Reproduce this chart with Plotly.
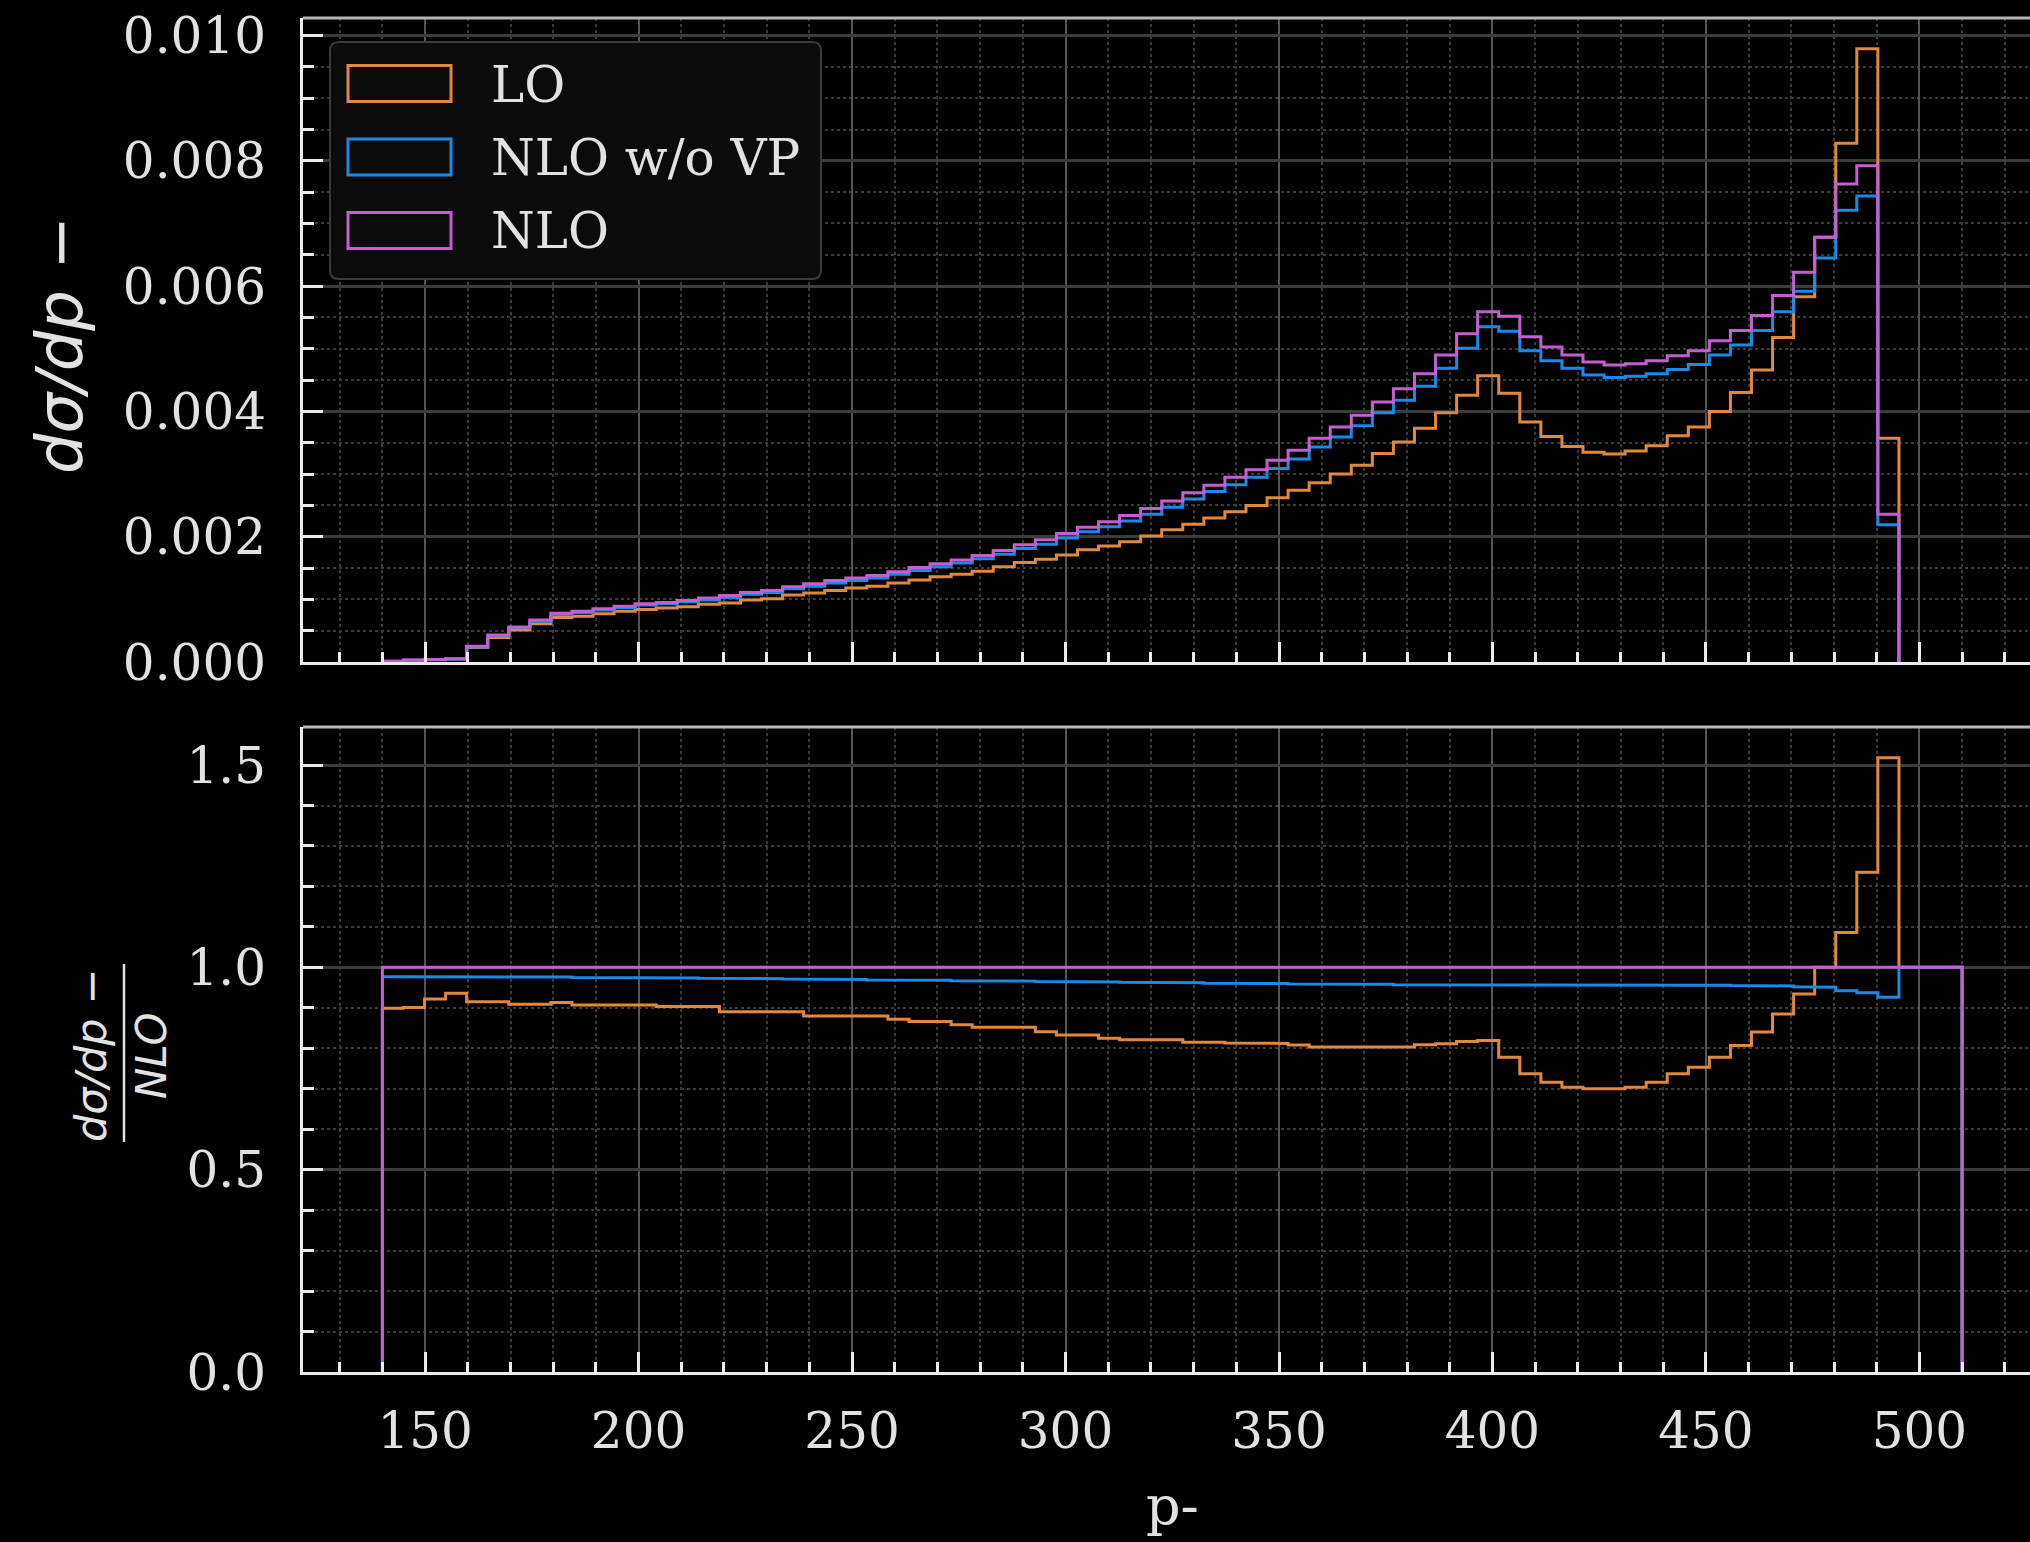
import numpy as np
import plotly.graph_objects as go

# ---------------- data ----------------
BIN_START = 140.0
BIN_STOP = 510.0
N_BINS = 75
edges = np.linspace(BIN_START, BIN_STOP, N_BINS + 1)

lo = [
    0.000009, 0.000027, 0.000037, 0.000047, 0.00023, 0.00039, 0.00051, 0.00061, 0.00071, 0.00073,
    0.00077, 0.00081, 0.00084, 0.00086, 0.00088, 0.00092, 0.00094, 0.00099, 0.00101, 0.00107,
    0.00110, 0.00114, 0.00118, 0.00121, 0.00126, 0.00131, 0.00136, 0.00140, 0.00145, 0.00152,
    0.00159, 0.00164, 0.00171, 0.00179, 0.00185, 0.00192, 0.00201, 0.00211, 0.00220, 0.00230,
    0.00240, 0.00250, 0.00262, 0.00274, 0.00286, 0.00300, 0.00314, 0.00333, 0.00351, 0.00373,
    0.00398, 0.00426, 0.00457, 0.00429, 0.00383, 0.00360, 0.00344, 0.00335, 0.00332, 0.00337,
    0.00345, 0.00361, 0.00375, 0.00400, 0.00430, 0.00466, 0.00518, 0.00583, 0.00678, 0.00828,
    0.00979, 0.00357, 0.0, 0.0, 0.0]

nlo_novp = [
    0.000010, 0.000029, 0.000039, 0.000049, 0.00024, 0.00042, 0.00055, 0.00065, 0.00076, 0.00079,
    0.00083, 0.00087, 0.00091, 0.00093, 0.00096, 0.00099, 0.00103, 0.00108, 0.00111, 0.00117,
    0.00121, 0.00126, 0.00130, 0.00134, 0.00140, 0.00146, 0.00152, 0.00158, 0.00165, 0.00172,
    0.00181, 0.00188, 0.00198, 0.00208, 0.00216, 0.00225, 0.00236, 0.00247, 0.00260, 0.00272,
    0.00283, 0.00295, 0.00309, 0.00324, 0.00343, 0.00359, 0.00377, 0.00398, 0.00418, 0.00440,
    0.00469, 0.00501, 0.00535, 0.00528, 0.00497, 0.00481, 0.00469, 0.00458, 0.00454, 0.00456,
    0.00460, 0.00467, 0.00475, 0.00490, 0.00506, 0.00529, 0.00559, 0.00592, 0.00645, 0.00721,
    0.00744, 0.00219, 0.0, 0.0, 0.0]

nlo = [
    0.000010, 0.000030, 0.000040, 0.000050, 0.00025, 0.00043, 0.00056, 0.00067, 0.00078, 0.00081,
    0.00085, 0.00089, 0.00093, 0.00095, 0.00098, 0.00102, 0.00106, 0.00111, 0.00114, 0.00120,
    0.00125, 0.00130, 0.00134, 0.00138, 0.00144, 0.00151, 0.00157, 0.00163, 0.00170, 0.00178,
    0.00187, 0.00195, 0.00205, 0.00215, 0.00224, 0.00234, 0.00245, 0.00257, 0.00270, 0.00282,
    0.00295, 0.00307, 0.00322, 0.00338, 0.00357, 0.00375, 0.00394, 0.00415, 0.00436, 0.00460,
    0.00490, 0.00524, 0.00559, 0.00552, 0.00519, 0.00503, 0.00490, 0.00479, 0.00474, 0.00476,
    0.00481, 0.00489, 0.00497, 0.00513, 0.00529, 0.00553, 0.00585, 0.00622, 0.00678, 0.00763,
    0.00792, 0.00236, 0.0, 0.0, 0.0]

ratio_lo = [
    0.899, 0.901, 0.922, 0.936, 0.915, 0.915, 0.909, 0.909, 0.913, 0.907,
    0.907, 0.907, 0.907, 0.903, 0.903, 0.903, 0.890, 0.890, 0.890, 0.890,
    0.880, 0.880, 0.880, 0.880, 0.872, 0.866, 0.866, 0.858, 0.852, 0.852,
    0.852, 0.841, 0.833, 0.833, 0.825, 0.821, 0.821, 0.821, 0.815, 0.815,
    0.813, 0.812, 0.812, 0.808, 0.803, 0.802, 0.802, 0.802, 0.803, 0.809,
    0.811, 0.817, 0.819, 0.778, 0.737, 0.716, 0.704, 0.700, 0.700, 0.704,
    0.716, 0.737, 0.753, 0.778, 0.807, 0.840, 0.885, 0.934, 1.000, 1.086,
    1.235, 1.518, 1.000, 1.000, 1.000]

ratio_novp = [
    0.977, 0.977, 0.977, 0.977, 0.977, 0.976, 0.976, 0.976, 0.976, 0.975,
    0.975, 0.975, 0.974, 0.974, 0.974, 0.973, 0.973, 0.972, 0.972, 0.971,
    0.971, 0.970, 0.970, 0.969, 0.969, 0.968, 0.968, 0.967, 0.967, 0.966,
    0.966, 0.965, 0.965, 0.964, 0.964, 0.963, 0.963, 0.962, 0.962, 0.961,
    0.961, 0.960, 0.960, 0.959, 0.959, 0.958, 0.958, 0.958, 0.957, 0.957,
    0.957, 0.957, 0.957, 0.957, 0.957, 0.956, 0.956, 0.956, 0.956, 0.956,
    0.956, 0.956, 0.956, 0.956, 0.955, 0.955, 0.954, 0.952, 0.951, 0.942,
    0.937, 0.926, 1.000, 1.000, 1.000]

ratio_nlo = [
    1.0, 1.0, 1.0, 1.0, 1.0, 1.0, 1.0, 1.0, 1.0, 1.0,
    1.0, 1.0, 1.0, 1.0, 1.0, 1.0, 1.0, 1.0, 1.0, 1.0,
    1.0, 1.0, 1.0, 1.0, 1.0, 1.0, 1.0, 1.0, 1.0, 1.0,
    1.0, 1.0, 1.0, 1.0, 1.0, 1.0, 1.0, 1.0, 1.0, 1.0,
    1.0, 1.0, 1.0, 1.0, 1.0, 1.0, 1.0, 1.0, 1.0, 1.0,
    1.0, 1.0, 1.0, 1.0, 1.0, 1.0, 1.0, 1.0, 1.0, 1.0,
    1.0, 1.0, 1.0, 1.0, 1.0, 1.0, 1.0, 1.0, 1.0, 1.0,
    1.0, 1.0, 1.0, 1.0, 1.0]

series_names = ["LO", "NLO w/o VP", "NLO"]
series_colors = ["#e0883e", "#1a8ae6", "#c45fd0"]
top_values = [lo, nlo_novp, nlo]
ratio_values = [ratio_lo, ratio_novp, ratio_nlo]

x_tick_vals = [150, 200, 250, 300, 350, 400, 450, 500]

# ---------------- geometry ----------------
W, H = 2030, 1542
ML, MR, MT, MB = 303, 0, 18, 170
PW = W - ML - MR
PH = H - MT - MB
TOP_Y0, TOP_Y1 = 18.0, 662.0      # pixel rows of top panel
BOT_Y0, BOT_Y1 = 727.0, 1372.0    # pixel rows of bottom panel


def px(xp):
    return (xp - ML) / PW


def py(yp):
    return (H - MB - yp) / PH


def step_xy(vals, trim_zero_tail=False):
    n = len(vals)
    if trim_zero_tail:
        while n > 0 and vals[n - 1] == 0:
            n -= 1
    xs = [edges[0]]
    ys = [0.0]
    for k in range(n):
        xs += [edges[k], edges[k + 1]]
        ys += [vals[k], vals[k]]
    xs.append(edges[n])
    ys.append(0.0)
    return xs, ys


fig = go.Figure()
for name, col, vals in zip(series_names, series_colors, top_values):
    xs, ys = step_xy(vals, trim_zero_tail=True)
    fig.add_trace(go.Scatter(x=xs, y=ys, mode="lines", name=name,
                             line=dict(color=col, width=3),
                             xaxis="x", yaxis="y", showlegend=False))
for name, col, vals in zip(series_names, series_colors, ratio_values):
    xs, ys = step_xy(vals)
    fig.add_trace(go.Scatter(x=xs, y=ys, mode="lines", name=name + " / NLO",
                             line=dict(color=col, width=3),
                             xaxis="x2", yaxis="y2", showlegend=False))

SERIF = "DejaVu Serif"
TXT = "#e2e2e2"
XR = [121.4, 525.9]

common_x = dict(
    range=XR, tickvals=x_tick_vals, ticks="inside", ticklen=20, tickwidth=3,
    tickcolor="#ebebeb", showline=True, linecolor="#ebebeb", linewidth=3,
    showgrid=True, gridcolor="#555555", gridwidth=2, zeroline=False,
    minor=dict(dtick=10, tick0=0, ticks="inside", ticklen=10, tickwidth=2.5,
               tickcolor="#ebebeb", showgrid=True, gridcolor="#3a3a3a",
               gridwidth=1.5, griddash="dot"),
    tickfont=dict(family=SERIF, size=50, color=TXT),
)
common_y = dict(
    ticks="inside", ticklen=20, tickwidth=3, tickcolor="#ebebeb",
    showline=True, linecolor="#ebebeb", linewidth=3,
    showgrid=True, gridcolor="#3c3c3c", gridwidth=3, zeroline=False,
    tickfont=dict(family=SERIF, size=50, color=TXT), ticklabelstandoff=24,
)

fig.update_layout(
    width=W, height=H, autosize=False,
    margin=dict(l=ML, r=MR, t=MT, b=MB, autoexpand=False),
    paper_bgcolor="#000000", plot_bgcolor="#000000",
    showlegend=False,
    xaxis=dict(common_x, domain=[0, 1], anchor="y", showticklabels=False,
               matches="x2"),
    yaxis=dict(common_y, domain=[py(TOP_Y1), 1.0], anchor="x",
               range=[0, 0.01028], dtick=0.002, tick0=0, tickformat=".3f",
               minor=dict(dtick=0.0005, ticks="inside", ticklen=11, tickwidth=2.5,
                          tickcolor="#ebebeb", showgrid=True, gridcolor="#3a3a3a",
                          gridwidth=1.5, griddash="dot")),
    xaxis2=dict(common_x, domain=[0, 1], anchor="y2", showticklabels=True,
                ticklabelstandoff=13),
    yaxis2=dict(common_y, domain=[0, py(BOT_Y0)], anchor="x2",
                range=[0, 1.594], dtick=0.5, tick0=0, tickformat=".1f",
                minor=dict(dtick=0.1, ticks="inside", ticklen=11, tickwidth=2.5,
                           tickcolor="#ebebeb", showgrid=True, gridcolor="#3a3a3a",
                           gridwidth=1.5, griddash="dot")),
)

shapes = []
annotations = []

# top spines (grey)
for yy in (TOP_Y0, BOT_Y0):
    shapes.append(dict(type="line", xref="paper", yref="paper",
                       x0=0, x1=1, y0=py(yy), y1=py(yy),
                       line=dict(color="#b4b4b4", width=3), layer="above"))

# legend box with rounded corners
bx0, bx1, by0, by1, r = 330, 821, 42, 279, 9
path = (f"M {px(bx0 + r)},{py(by0)} L {px(bx1 - r)},{py(by0)} "
        f"Q {px(bx1)},{py(by0)} {px(bx1)},{py(by0 + r)} "
        f"L {px(bx1)},{py(by1 - r)} Q {px(bx1)},{py(by1)} {px(bx1 - r)},{py(by1)} "
        f"L {px(bx0 + r)},{py(by1)} Q {px(bx0)},{py(by1)} {px(bx0)},{py(by1 - r)} "
        f"L {px(bx0)},{py(by0 + r)} Q {px(bx0)},{py(by0)} {px(bx0 + r)},{py(by0)} Z")
shapes.append(dict(type="path", xref="paper", yref="paper", path=path,
                   fillcolor="#0b0b0b", line=dict(color="#3a3a3a", width=2),
                   layer="above"))
entry_y = [83.5, 157.0, 230.5]
for name, col, yc in zip(series_names, series_colors, entry_y):
    shapes.append(dict(type="rect", xref="paper", yref="paper",
                       x0=px(348), x1=px(451), y0=py(yc - 18), y1=py(yc + 18),
                       line=dict(color=col, width=3), fillcolor="#0b0b0b",
                       layer="above"))
    annotations.append(dict(text=name, xref="paper", yref="paper",
                            x=px(489), y=py(yc + 1), xanchor="left", yanchor="middle",
                            showarrow=False,
                            font=dict(family=SERIF, size=50, color=TXT)))

# axis labels
annotations.append(dict(text="<i>dσ/dp</i> −", xref="paper", yref="paper",
                        x=px(60), y=py(345), textangle=-90, showarrow=False,
                        xanchor="center", yanchor="middle",
                        font=dict(family="DejaVu Sans", size=64, color=TXT)))
annotations.append(dict(text="<i>dσ/dp</i> −", xref="paper", yref="paper",
                        x=px(91), y=py(1056), textangle=-90, showarrow=False,
                        xanchor="center", yanchor="middle",
                        font=dict(family="DejaVu Sans", size=43, color=TXT)))
annotations.append(dict(text="<i>NLO</i>", xref="paper", yref="paper",
                        x=px(151), y=py(1056), textangle=-90, showarrow=False,
                        xanchor="center", yanchor="middle",
                        font=dict(family="DejaVu Sans", size=42, color=TXT)))
shapes.append(dict(type="line", xref="paper", yref="paper",
                   x0=px(124), x1=px(124), y0=py(964), y1=py(1142),
                   line=dict(color=TXT, width=2.5)))
annotations.append(dict(text="p-", xref="paper", yref="paper",
                        x=px(1172), y=py(1506), showarrow=False,
                        xanchor="center", yanchor="middle",
                        font=dict(family=SERIF, size=54, color=TXT)))

fig.update_layout(shapes=shapes, annotations=annotations)

fig.write_html("out.html", config={"displayModeBar": False},
               post_script="document.body.style.margin='0';document.body.style.overflow='hidden';")
